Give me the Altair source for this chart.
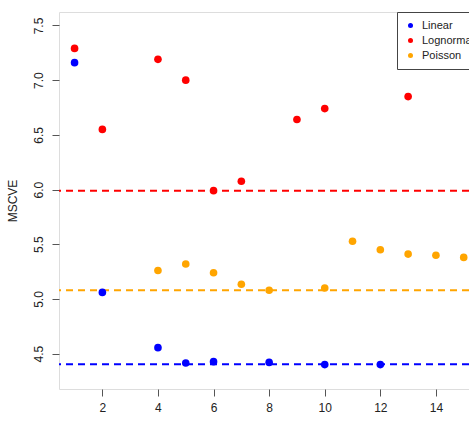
import altair as alt
import pandas as pd

# Series values
linear_x = [1, 2, 4, 5, 6, 8, 10, 12]
linear_y = [7.16, 5.06, 4.555, 4.415, 4.427, 4.42, 4.40, 4.40]

lognormal_x = [1, 2, 4, 5, 6, 7, 9, 10, 13]
lognormal_y = [7.29, 6.55, 7.19, 7.00, 5.99, 6.076, 6.64, 6.74, 6.85]

poisson_x = [4, 5, 6, 7, 8, 10, 11, 12, 13, 14, 15]
poisson_y = [5.26, 5.32, 5.24, 5.134, 5.08, 5.10, 5.527, 5.45, 5.41, 5.40, 5.38]

series_names = ["Linear", "Lognormal", "Poisson"]
series_colors = ["#0000FF", "#FF0000", "#FFA500"]
reference_levels = [4.403, 5.99, 5.08]

x_ticks = [2, 4, 6, 8, 10, 12, 14]
y_ticks = [4.5, 5.0, 5.5, 6.0, 6.5, 7.0, 7.5]

rows = []
for name, xs, ys in [("Linear", linear_x, linear_y),
                     ("Lognormal", lognormal_x, lognormal_y),
                     ("Poisson", poisson_x, poisson_y)]:
    for xv, yv in zip(xs, ys):
        rows.append({"k": xv, "MSCVE": yv, "model": name})
points_df = pd.DataFrame(rows)
lines_df = pd.DataFrame({"model": series_names, "level": reference_levels})

FONT = "Liberation Sans"
x_scale = alt.Scale(domain=[0.44, 15.19], nice=False, zero=False)
y_scale = alt.Scale(domain=[4.177, 7.623], nice=False, zero=False)

points = alt.Chart(points_df).mark_circle(size=58, opacity=1).encode(
    x=alt.X("k:Q", scale=x_scale, title=None,
            axis=alt.Axis(values=x_ticks, format="d", grid=False, tickSize=7,
                          labelPadding=6, labelFontSize=12, domain=False,
                          tickColor="#555", labelColor="#222", labelFont=FONT)),
    y=alt.Y("MSCVE:Q", scale=y_scale, title="MSCVE",
            axis=alt.Axis(values=y_ticks, format=".1f", grid=False, tickSize=7,
                          labelAngle=-90, labelAlign="center", labelBaseline="bottom",
                          labelPadding=7, labelFontSize=12, domain=False,
                          tickColor="#555", labelColor="#222", labelFont=FONT,
                          titleFont=FONT, titleFontSize=12, titleFontWeight="normal",
                          titleColor="#222", titlePadding=13)),
    color=alt.Color("model:N",
                    scale=alt.Scale(domain=series_names, range=series_colors),
                    legend=alt.Legend(title=None, orient="none", legendX=338, legendY=0,
                                      strokeColor="#444", fillColor="white",
                                      padding=8, symbolType="circle", symbolSize=25,
                                      symbolStrokeWidth=0, labelFontSize=11,
                                      labelFont=FONT, labelColor="#222",
                                      rowPadding=3, labelOffset=6, cornerRadius=0)),
)

rules = alt.Chart(lines_df).mark_rule(strokeDash=[7, 5], strokeWidth=2).encode(
    y=alt.Y("level:Q", scale=y_scale),
    color=alt.Color("model:N",
                    scale=alt.Scale(domain=series_names, range=series_colors),
                    legend=None),
)

chart = alt.layer(rules, points).resolve_scale(color="independent").properties(
    width=410, height=377,
    autosize=alt.AutoSizeParams(type="none"),
    padding={"left": 59, "top": 12, "right": 0, "bottom": 34},
).configure_view(stroke="#555", strokeWidth=1.2).configure(background="white")

chart.save("out.html", embed_options={"renderer": "svg", "actions": False})
